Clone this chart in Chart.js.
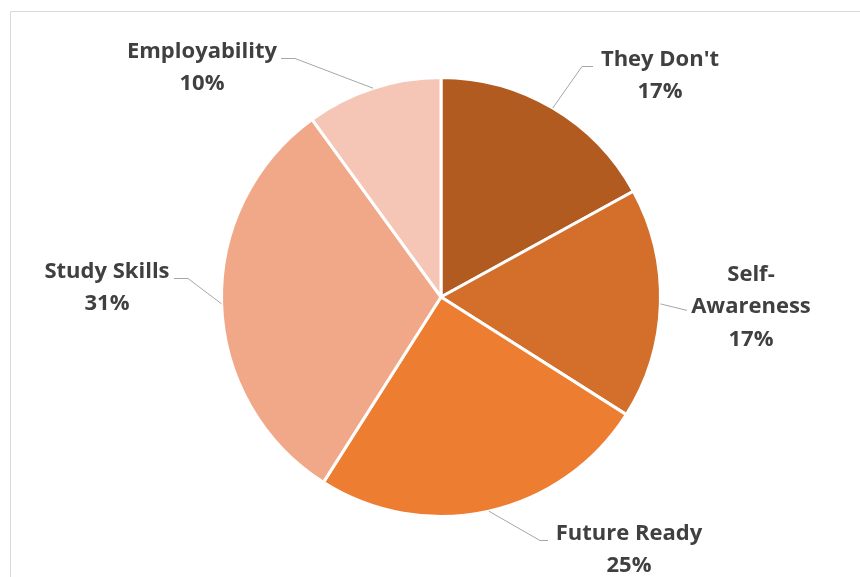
<!DOCTYPE html>
<html>
<head>
<meta charset="utf-8">
<script src="https://cdn.jsdelivr.net/npm/chart.js@4/dist/chart.umd.min.js"></script>
<style>
  html, body { margin: 0; padding: 0; background: #ffffff; }
  #wrap { width: 860px; height: 577px; position: relative; }
</style>
</head>
<body>
<div id="wrap"><canvas id="c" width="860" height="577"></canvas></div>
<script>
// Share of responses by theme
const categories = ["They Don't", "Self-Awareness", "Future Ready", "Study Skills", "Employability"];
const shares = [17, 17, 25, 31, 10];
const sliceColors = ['#B25B21', '#D36E2B', '#ED7D31', '#F0A889', '#F5C6B6'];

// Where each label block sits (centre x, first-line y) and where its leader bends
const labelLayout = [
  { lines: ["They Don't"], x: 660, y: 58, elbowX: 582, textEdge: 593 },
  { lines: ['Self-', 'Awareness'], x: 751, y: 273, elbowX: null, textEdge: 687 },
  { lines: ['Future Ready'], x: 629, y: 532, elbowX: 540, textEdge: 548 },
  { lines: ['Study Skills'], x: 107, y: 270, elbowX: 188, textEdge: 174 },
  { lines: ['Employability'], x: 202, y: 50, elbowX: 295, textEdge: 281 }
];

const FONT = 'bold 22px "Open Sans", sans-serif';
const LINE_H = 32.5;
const TEXT_SHIFT = 1.5;

const framePlugin = {
  id: 'frame',
  beforeDraw(chart) {
    const ctx = chart.ctx;
    ctx.save();
    ctx.strokeStyle = '#D9D9D9';
    ctx.lineWidth = 1;
    ctx.beginPath();
    ctx.moveTo(10.5, 577);
    ctx.lineTo(10.5, 11.5);
    ctx.lineTo(860, 11.5);
    ctx.stroke();
    ctx.restore();
  }
};

const labelPlugin = {
  id: 'sliceLabels',
  afterDatasetsDraw(chart) {
    const ctx = chart.ctx;
    const meta = chart.getDatasetMeta(0);
    ctx.save();
    meta.data.forEach((arc, i) => {
      const lay = labelLayout[i];
      const p = arc.getProps(['x', 'y', 'startAngle', 'endAngle', 'outerRadius'], true);
      const mid = (p.startAngle + p.endAngle) / 2;
      const ax = p.x + Math.cos(mid) * p.outerRadius;
      const ay = p.y + Math.sin(mid) * p.outerRadius;
      const lineY = lay.y + (lay.lines.length === 2 ? LINE_H * 1.15 : 8.5);
      // leader line
      ctx.strokeStyle = '#A6A6A6';
      ctx.lineWidth = 1;
      ctx.beginPath();
      ctx.moveTo(ax, ay);
      if (lay.elbowX !== null) {
        ctx.lineTo(lay.elbowX, lineY);
      }
      ctx.lineTo(lay.textEdge, lineY);
      ctx.stroke();
      // text
      ctx.fillStyle = '#404040';
      ctx.font = FONT;
      ctx.textAlign = 'center';
      ctx.textBaseline = 'middle';
      const all = lay.lines.concat([shares[i] + '%']);
      all.forEach((t, k) => ctx.fillText(t, lay.x, lay.y + TEXT_SHIFT + k * LINE_H));
    });
    ctx.restore();
  }
};

new Chart(document.getElementById('c'), {
  type: 'pie',
  data: {
    labels: categories,
    datasets: [{
      data: shares,
      backgroundColor: sliceColors,
      borderColor: '#ffffff',
      borderWidth: 3
    }]
  },
  options: {
    responsive: false,
    animation: false,
    layout: { padding: { top: 76, bottom: 59, left: 220, right: 198 } },
    plugins: {
      legend: { display: false },
      tooltip: { enabled: false }
    }
  },
  plugins: [framePlugin, labelPlugin]
});
</script>
</body>
</html>
